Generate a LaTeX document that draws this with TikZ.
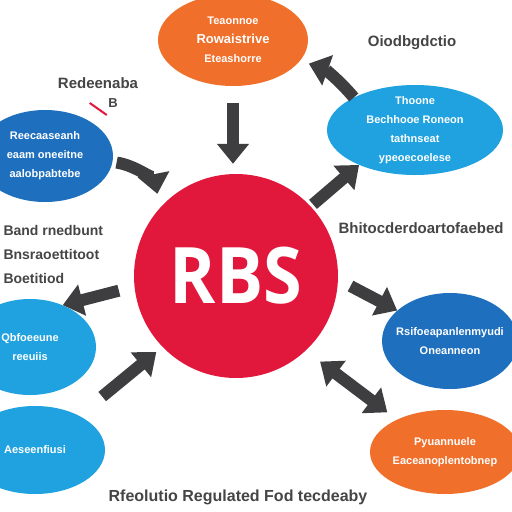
\documentclass[tikz,border=0pt]{standalone}
\usepackage{fontspec}
\setmainfont{Liberation Sans}
\newfontfamily\rbsfont{Open Sans}
\usetikzlibrary{shapes.geometric,arrows.meta}

\definecolor{rbsred}{HTML}{E2173C}
\definecolor{bubbleorange}{HTML}{EF6F2B}
\definecolor{skyblue}{HTML}{1FA2DF}
\definecolor{deepblue}{HTML}{1E6FBD}
\definecolor{arrowgray}{HTML}{3E3E40}
\definecolor{labelgray}{HTML}{454545}

\begin{document}
\begin{tikzpicture}[x=1pt, y=-1pt,
        bubble/.style={ellipse, inner sep=-15pt, text=white, align=center, font=\bfseries\fontsize{11}{19}\selectfont},
        caption/.style={text=labelgray, font=\bfseries\fontsize{15}{24}\selectfont},
        flow/.style={draw=arrowgray, line width=12pt, -{Triangle[length=20pt,width=31pt]}},
        twoway/.style={draw=arrowgray, line width=12pt, {Triangle[length=20pt,width=31pt]}-{Triangle[length=20pt,width=31pt]}}]
        \useasboundingbox (0,0) rectangle (512,512);
        \fill[white] (0,0) rectangle (512,512);

        % Nodes
        \node[circle, fill=rbsred, minimum size=204pt, inner sep=0pt, text=white, font=\rbsfont\bfseries\fontsize{78}{78}\selectfont] (rbs) at (236,276) {\scalebox{0.9}[1]{RBS}};

        \node[bubble, fill=bubbleorange, minimum width=150pt, minimum height=92pt] (top) at (233,40) {Teaonnoe\\{\fontsize{13}{19}\selectfont Rowaistrive}\\Eteashorre};

        \node[bubble, fill=skyblue, minimum width=176pt, minimum height=90pt] (rup) at (415,130) {Thoone\\Bechhooe Roneon\\tathnseat\\ypeoecoelese};

        \node[bubble, fill=deepblue, minimum width=136pt, minimum height=92pt] (lup) at (45,156) {Reecaaseanh\\eaam oneeitne\\aalobpabtebe};

        \node[bubble, fill=skyblue, minimum width=132pt, minimum height=96pt] (llo) at (30,347) {Qbfoeeune\\reeuiis};

        \node[bubble, fill=skyblue, minimum width=140pt, minimum height=88pt] (lbo) at (35,450) {Aeseenfiusi};

        \node[bubble, fill=deepblue, minimum width=136pt, minimum height=96pt] (rlo) at (450,341) {Rsifoeapanlenmyudi\\Oneanneon};

        \node[bubble, fill=bubbleorange, minimum width=150pt, minimum height=84pt] (rbo) at (445,452) {Pyuannuele\\Eaceanoplentobnep};

        % Labels
        \node[caption] (guide) at (412,43) {Oiodbgdctio};
        \node[caption] (remedy) at (98,83) {Redeenaba};
        \node[caption, font=\bfseries\fontsize{13}{13}\selectfont] (mark) at (113,103) {B};
        \node[caption, anchor=west, align=left, font=\bfseries\fontsize{14}{24}\selectfont] (frames) at (0,254) {Band rnedbunt\\Bnsraoettitoot\\Boetitiod};
        \node[caption, anchor=west] (outcome) at (335,228) {Bhitocderdoartofaebed};
        \node[caption, font=\bfseries\fontsize{16}{16}\selectfont] (footer) at (238,497) {Rfeolutio Regulated Fod tecdeaby};

        % Arrows
        \draw[flow, shorten <=17pt, shorten >=10pt] (top.south) -- (top.south |- rbs.north);
        \draw[flow, shorten <=3pt] (rbs.43) -- (rup.212);
        \draw[flow, shorten >=9pt] (rup.152) to[bend right=15] (top.-17);
        \draw[flow, shorten <=4pt, shorten >=14pt] (lup.-5) to[bend left=35] (rbs.138);
        \draw[flow, shorten <=16pt] (rbs.186) -- (llo.52);
        \draw[flow, shorten <=30pt, shorten >=8pt] (lbo.38) -- (rbs.224);
        \draw[flow, shorten <=14pt] (rbs.-2) -- (rlo.150);
        \draw[twoway, shorten <=18pt, shorten >=12pt] (rbs.-47) -- (rbo.146);

        % red tick under the small B
        \draw[rbsred, line width=2pt] (mark.west) ++(-15,0) -- ++(17,12);
    \end{tikzpicture}
\end{document}
